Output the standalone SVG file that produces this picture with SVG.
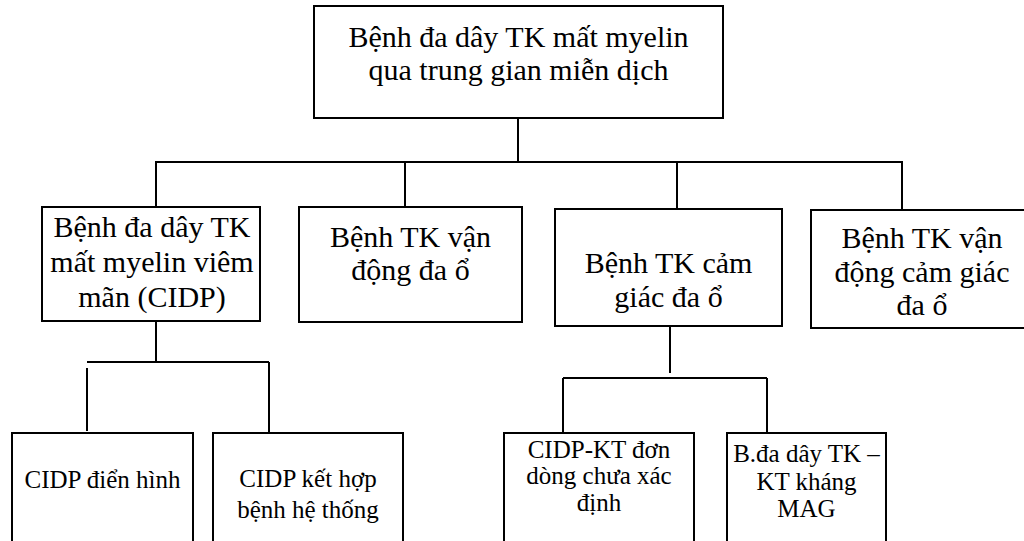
<svg xmlns="http://www.w3.org/2000/svg" width="1024" height="541" viewBox="0 0 1024 541">
<style>
.box{fill:#fff;stroke:#000;stroke-width:2}
.ln{stroke:#000;stroke-width:2;fill:none}
.t{font-family:'Liberation Serif',Tinos,'Times New Roman','Noto Serif','DejaVu Serif',FreeSerif,serif;font-size:30px;fill:#000;text-anchor:middle}
.s{font-family:'Liberation Serif',Tinos,'Times New Roman','Noto Serif','DejaVu Serif',FreeSerif,serif;font-size:25px;fill:#000;text-anchor:middle}
</style>
<rect width="1024" height="541" fill="#fff"/>
<g id="connectors">
<path class="ln" d="M518,118 V162"/>
<path class="ln" d="M155,162 H903"/>
<path class="ln" d="M156,161 V207 M405,162 V207 M677,162 V209 M902,162 V210"/>
<path class="ln" d="M156,321 V362 M87,362 H269 M87,368 V431 M269,362 V432"/>
<path class="ln" d="M670,326 V373 M563,378 H767 M563,378 V433 M767,378 V433"/>
</g>
<g id="root">
<rect class="box" x="314" y="6" width="409" height="112"/>
<text class="t" x="518.5" y="47">Bệnh đa dây TK mất myelin</text>
<text class="t" x="518.5" y="80">qua trung gian miễn dịch</text>
</g>
<g id="cidp">
<rect class="box" x="42" y="207" width="218" height="114"/>
<text class="t" x="152" y="237">Bệnh đa dây TK</text>
<text class="t" x="152" y="272">mất myelin viêm</text>
<text class="t" x="152" y="307">mãn (CIDP)</text>
</g>
<g id="vandong">
<rect class="box" x="299" y="207" width="223" height="115"/>
<text class="t" x="410.5" y="247">Bệnh TK vận</text>
<text class="t" x="410.5" y="280">động đa ổ</text>
</g>
<g id="camgiac">
<rect class="box" x="555" y="209" width="227" height="117"/>
<text class="t" x="668.5" y="273">Bệnh TK cảm</text>
<text class="t" x="668.5" y="307">giác đa ổ</text>
</g>
<g id="vandongcamgiac">
<rect class="box" x="811" y="210" width="222" height="118"/>
<text class="t" x="922" y="248">Bệnh TK vận</text>
<text class="t" x="922" y="282">động cảm giác</text>
<text class="t" x="922" y="315">đa ổ</text>
</g>
<g id="cidp-dienhinh">
<rect class="box" x="12" y="433" width="181" height="130"/>
<text class="s" x="102.5" y="488">CIDP điển hình</text>
</g>
<g id="cidp-kethop">
<rect class="box" x="213" y="433" width="190" height="130"/>
<text class="s" x="308" y="487">CIDP kết hợp</text>
<text class="s" x="308" y="518">bệnh hệ thống</text>
</g>
<g id="cidp-kt">
<rect class="box" x="504" y="433" width="190" height="130"/>
<text class="s" x="599" y="458">CIDP-KT đơn</text>
<text class="s" x="599" y="484">dòng chưa xác</text>
<text class="s" x="599" y="511">định</text>
</g>
<g id="mag">
<rect class="box" x="727" y="433" width="159" height="130"/>
<text class="s" x="806.5" y="462">B.đa dây TK –</text>
<text class="s" x="806.5" y="490">KT kháng</text>
<text class="s" x="806.5" y="517">MAG</text>
</g>
</svg>
